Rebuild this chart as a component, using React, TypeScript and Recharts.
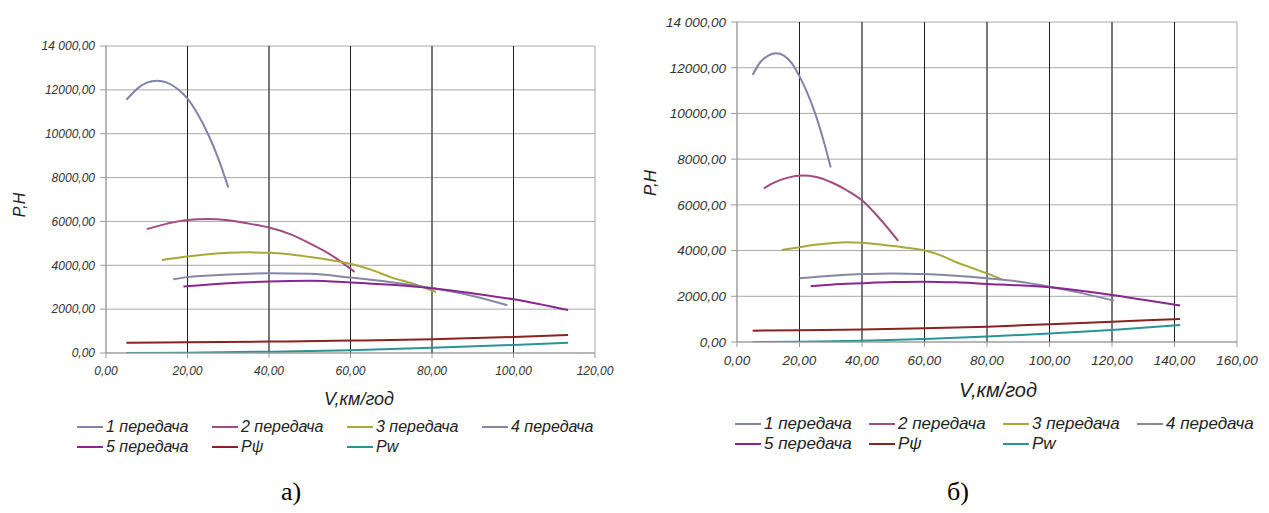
import React from 'react';
import { LineChart, Line, XAxis, YAxis, CartesianGrid, ReferenceLine } from 'recharts';

// --- values: [V, P] pairs ---
// chart a)
const gear1A: [number, number][] = [[5, 11540], [8, 12100], [10, 12330], [12.5, 12420], [15, 12330], [17.5, 12050], [20, 11600], [22.5, 10900], [25, 10000], [27.5, 8900], [30, 7550]];
const gear2A: [number, number][] = [[10, 5650], [15, 5900], [20, 6070], [25, 6110], [30, 6050], [35, 5900], [40, 5720], [45, 5430], [50, 5000], [55, 4500], [61, 3700]];
const gear3A: [number, number][] = [[13.7, 4240], [20, 4400], [25, 4500], [30, 4570], [35, 4590], [40, 4570], [45, 4500], [50, 4380], [55, 4240], [60, 4070], [65, 3800], [70, 3450], [75, 3180], [81, 2780]];
const gear4A: [number, number][] = [[16.5, 3360], [20, 3460], [30, 3580], [40, 3640], [50, 3610], [60, 3440], [70, 3230], [80, 2960], [90, 2600], [98.5, 2180]];
const gear5A: [number, number][] = [[19, 3030], [30, 3180], [40, 3260], [50, 3290], [60, 3220], [70, 3110], [80, 2950], [90, 2720], [100, 2450], [113.4, 1960]];
const pPsiA: [number, number][] = [[5, 470], [20, 490], [40, 520], [60, 565], [80, 630], [100, 730], [113.4, 820]];
const pWA: [number, number][] = [[5, 1], [20, 15], [40, 60], [60, 130], [80, 235], [100, 365], [113.4, 470]];

// chart б)
const gear1B: [number, number][] = [[5, 11680], [7.5, 12250], [10, 12530], [12.5, 12630], [15, 12530], [17.5, 12200], [20, 11620], [22.5, 10900], [25, 10000], [27.5, 8900], [30, 7630]];
const gear2B: [number, number][] = [[8.6, 6720], [12, 6980], [16, 7180], [21, 7280], [25, 7230], [30, 7000], [35, 6650], [40, 6200], [45, 5500], [51.6, 4420]];
const gear3B: [number, number][] = [[14.3, 4025], [20, 4150], [25, 4250], [30, 4320], [35, 4360], [40, 4340], [45, 4280], [50, 4200], [55, 4110], [60, 4000], [65, 3800], [70, 3500], [75, 3250], [80, 3000], [84.7, 2740]];
const gear4B: [number, number][] = [[20, 2790], [30, 2900], [40, 2970], [50, 3000], [60, 2970], [70, 2900], [80, 2790], [90, 2650], [100, 2420], [110, 2150], [120.6, 1810]];
const gear5B: [number, number][] = [[23.6, 2450], [30, 2510], [40, 2570], [50, 2620], [60, 2640], [70, 2610], [80, 2540], [90, 2480], [100, 2390], [110, 2240], [120, 2060], [130, 1850], [141.8, 1600]];
const pPsiB: [number, number][] = [[5, 495], [20, 510], [40, 550], [60, 600], [80, 670], [100, 780], [120, 890], [141.8, 1010]];
const pWB: [number, number][] = [[5, 1], [20, 15], [40, 60], [60, 133], [80, 237], [100, 370], [120, 530], [141.8, 745]];

const seriesNames = ['1 передача', '2 передача', '3 передача', '4 передача', '5 передача', 'Pψ', 'Pw'];
const seriesColors = ['#8282ae', '#a04c80', '#a8a83a', '#8686a6', '#8a2590', '#8b2222', '#2a9494'];

const yTicks = [0, 2000, 4000, 6000, 8000, 10000, 12000, 14000];
const xTicksA = [0, 20, 40, 60, 80, 100, 120];
const xTicksB = [0, 20, 40, 60, 80, 100, 120, 140, 160];

const FONT = "'Liberation Sans', Arial, sans-serif";

const toPoints = (pairs: [number, number][]) => pairs.map(([v, p]) => ({ v, p }));
const fmt = (n: number) => (n === 14000 ? '14 000,00' : n.toFixed(2).replace('.', ','));

interface PanelProps {
  series: [number, number][][];
  xTicks: number[];
  left: number;
  width: number;
  height: number;
  margin: { top: number; right: number; left: number; bottom: number };
  yAxisWidth: number;
  xAxisHeight: number;
  fontSize: number;
}

const Panel = ({ series, xTicks, left, width, height, margin, yAxisWidth, xAxisHeight, fontSize }: PanelProps) => {
  const tick = { fill: '#333', fontSize, fontFamily: FONT, fontStyle: 'italic' as const };
  const xMax = xTicks[xTicks.length - 1];
  return (
    <div style={{ position: 'absolute', left, top: 0 }}>
      <LineChart width={width} height={height} margin={margin}>
        <CartesianGrid stroke="#a8a8a8" strokeWidth={1} />
        {/* inner vertical grid lines are drawn dark in the original */}
        {xTicks.slice(1, -1).map((t) => (
          <ReferenceLine key={t} x={t} stroke="#1e1e1e" strokeWidth={1} />
        ))}
        <XAxis
          type="number"
          dataKey="v"
          domain={[0, xMax]}
          ticks={xTicks}
          interval={0}
          tickFormatter={fmt}
          tick={tick}
          tickSize={5}
          tickMargin={8}
          height={xAxisHeight}
          stroke="#999"
          allowDataOverflow
        />
        <YAxis
          type="number"
          dataKey="p"
          domain={[0, 14000]}
          ticks={yTicks}
          interval={0}
          tickFormatter={fmt}
          tick={tick}
          tickSize={6}
          tickMargin={5}
          width={yAxisWidth}
          stroke="#999"
          allowDataOverflow
        />
        {series.map((s, i) => (
          <Line
            key={seriesNames[i]}
            data={toPoints(s)}
            dataKey="p"
            type="monotone"
            stroke={seriesColors[i]}
            strokeWidth={2}
            dot={false}
            isAnimationActive={false}
          />
        ))}
      </LineChart>
    </div>
  );
};

const LegendBlock = ({ left, top, colWidth, rowGap, fontSize }: { left: number; top: number; colWidth: number; rowGap: number; fontSize: number }) => (
  <div style={{ position: 'absolute', left, top }}>
    {seriesNames.map((name, i) => {
      const row = i < 4 ? 0 : 1;
      const col = i < 4 ? i : i - 4;
      return (
        <div
          key={name}
          style={{
            position: 'absolute',
            left: col * colWidth,
            top: row * rowGap,
            display: 'flex',
            alignItems: 'center',
            whiteSpace: 'nowrap',
            fontFamily: FONT,
            fontStyle: 'italic',
            fontSize,
            lineHeight: '18px',
            color: '#222',
          }}
        >
          <span style={{ display: 'inline-block', width: 26, height: 2, background: seriesColors[i], marginRight: 3 }} />
          {name}
        </div>
      );
    })}
  </div>
);

const textStyle: React.CSSProperties = {
  position: 'absolute',
  fontFamily: FONT,
  fontStyle: 'italic',
  color: '#222',
  whiteSpace: 'nowrap',
  transform: 'translate(-50%, -50%)',
};

export default function App() {
  return (
    <div style={{ position: 'absolute', left: 0, top: 0, width: 1269, height: 513, background: '#fff', overflow: 'hidden' }}>
      <Panel
        series={[gear1A, gear2A, gear3A, gear4A, gear5A, pPsiA, pWA]}
        xTicks={xTicksA}
        left={0}
        width={620}
        height={400}
        margin={{ top: 46, right: 25, left: 0, bottom: 0 }}
        yAxisWidth={106}
        xAxisHeight={47}
        fontSize={12}
      />
      <Panel
        series={[gear1B, gear2B, gear3B, gear4B, gear5B, pPsiB, pWB]}
        xTicks={xTicksB}
        left={630}
        width={639}
        height={400}
        margin={{ top: 22, right: 32, left: 0, bottom: 0 }}
        yAxisWidth={107}
        xAxisHeight={58}
        fontSize={13.5}
      />

      <div style={{ ...textStyle, left: 20, top: 205, fontSize: 16, transform: 'translate(-50%, -50%) rotate(-90deg)' }}>P,H</div>
      <div style={{ ...textStyle, left: 651, top: 183, fontSize: 17, transform: 'translate(-50%, -50%) rotate(-90deg)' }}>P,H</div>

      <div style={{ ...textStyle, left: 359, top: 399, fontSize: 18 }}>V,км/год</div>
      <div style={{ ...textStyle, left: 998, top: 390, fontSize: 20 }}>V,км/год</div>

      <LegendBlock left={77} top={418} colWidth={135} rowGap={20} fontSize={16} />
      <LegendBlock left={735} top={415} colWidth={134} rowGap={20} fontSize={17} />

      <div style={{ ...textStyle, left: 291, top: 492, fontSize: 26, fontStyle: 'normal', fontFamily: "'Liberation Serif', serif", color: '#000' }}>а)</div>
      <div style={{ ...textStyle, left: 958, top: 492, fontSize: 26, fontStyle: 'normal', fontFamily: "'Liberation Serif', serif", color: '#000' }}>б)</div>
    </div>
  );
}
